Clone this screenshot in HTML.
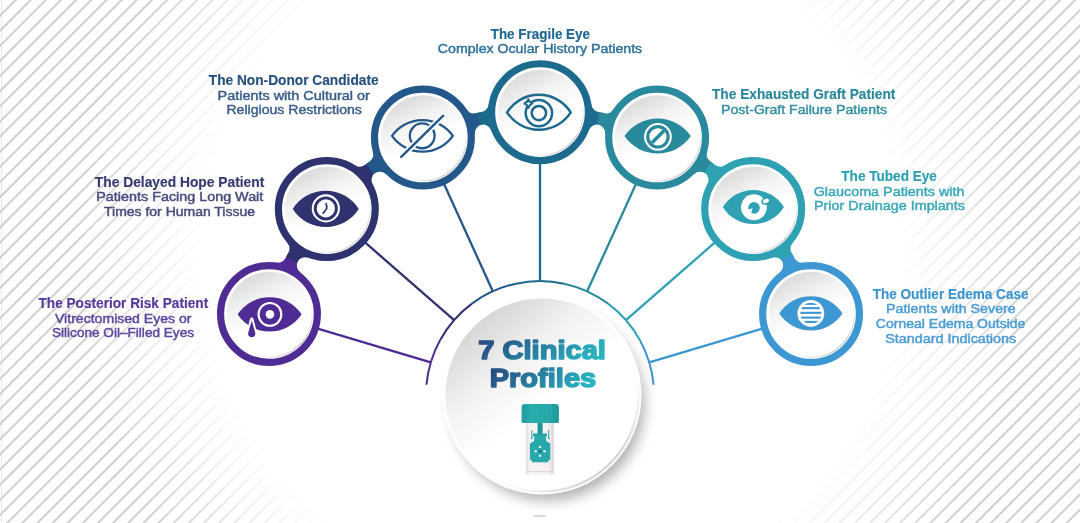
<!DOCTYPE html>
<html><head><meta charset="utf-8">
<style>
html,body{margin:0;padding:0;background:#fff;}
body{width:1080px;height:523px;overflow:hidden;position:relative;font-family:"Liberation Sans",sans-serif;}
#stripes{position:absolute;left:0;top:0;}
#fade{position:absolute;left:0;top:0;width:1080px;height:523px;
background:radial-gradient(circle 480px at 552px 255px,#fff 72%,rgba(255,255,255,0.55) 86%,rgba(255,255,255,0) 100%);}
#main{position:absolute;left:0;top:0;will-change:transform;}
</style></head><body>

<svg id="stripes" width="1080" height="523" viewBox="0 0 1080 523"><line x1="1.5" y1="0" x2="1.5" y2="523" stroke="#e9e9e9" stroke-width="1"/><path d="M35.60 -20L-527.40 543M50.73 -20L-512.26 543M65.87 -20L-497.13 543M81.00 -20L-482.00 543M96.14 -20L-466.86 543M111.28 -20L-451.73 543M126.41 -20L-436.59 543M141.55 -20L-421.45 543M156.68 -20L-406.32 543M171.81 -20L-391.19 543M186.95 -20L-376.05 543M202.08 -20L-360.92 543M217.22 -20L-345.78 543M232.35 -20L-330.65 543M247.49 -20L-315.51 543M262.62 -20L-300.38 543M277.76 -20L-285.24 543M292.89 -20L-270.11 543M308.03 -20L-254.97 543M323.16 -20L-239.84 543M338.30 -20L-224.70 543M353.43 -20L-209.57 543M368.57 -20L-194.43 543M383.70 -20L-179.30 543M398.84 -20L-164.16 543M413.97 -20L-149.03 543M429.11 -20L-133.89 543M444.24 -20L-118.76 543M459.38 -20L-103.62 543M474.51 -20L-88.49 543M489.65 -20L-73.35 543M504.78 -20L-58.22 543M519.92 -20L-43.08 543M535.05 -20L-27.95 543M550.19 -20L-12.81 543M565.32 -20L2.32 543M580.46 -20L17.46 543M595.59 -20L32.59 543M610.73 -20L47.73 543M625.86 -20L62.86 543M641.00 -20L78.00 543M656.13 -20L93.13 543M671.27 -20L108.27 543M686.40 -20L123.40 543M701.54 -20L138.54 543M716.67 -20L153.67 543M731.81 -20L168.81 543M746.94 -20L183.94 543M762.08 -20L199.08 543M777.21 -20L214.21 543M792.35 -20L229.35 543M807.48 -20L244.48 543M822.62 -20L259.62 543M837.75 -20L274.75 543M852.89 -20L289.89 543M868.02 -20L305.02 543M883.16 -20L320.16 543M898.29 -20L335.29 543M913.43 -20L350.43 543M928.56 -20L365.56 543M943.70 -20L380.70 543M958.83 -20L395.83 543M973.97 -20L410.97 543M989.10 -20L426.10 543M1004.24 -20L441.24 543M1019.37 -20L456.37 543M1034.51 -20L471.51 543M1049.64 -20L486.64 543M1064.78 -20L501.78 543M1079.91 -20L516.91 543M1095.05 -20L532.05 543M1110.18 -20L547.18 543M1125.32 -20L562.32 543M1140.45 -20L577.45 543M1155.59 -20L592.59 543M1170.72 -20L607.72 543M1185.86 -20L622.86 543M1200.99 -20L637.99 543M1216.13 -20L653.13 543M1231.26 -20L668.26 543M1246.40 -20L683.40 543M1261.53 -20L698.53 543M1276.67 -20L713.67 543M1291.80 -20L728.80 543M1306.94 -20L743.94 543M1322.07 -20L759.07 543M1337.21 -20L774.21 543M1352.34 -20L789.34 543M1367.48 -20L804.48 543M1382.61 -20L819.61 543M1397.75 -20L834.75 543M1412.88 -20L849.88 543M1428.02 -20L865.02 543M1443.15 -20L880.15 543M1458.29 -20L895.29 543M1473.42 -20L910.42 543M1488.56 -20L925.56 543M1503.69 -20L940.69 543M1518.83 -20L955.83 543M1533.96 -20L970.96 543M1549.10 -20L986.10 543M1564.23 -20L1001.23 543M1579.37 -20L1016.37 543M1594.50 -20L1031.50 543M1609.64 -20L1046.64 543M1624.77 -20L1061.77 543M1639.91 -20L1076.91 543" stroke="#cfcfcf" stroke-width="2" fill="none" style="filter:blur(0.65px)"/></svg>
<div id="fade"></div>
<svg id="main" width="1080" height="523" viewBox="0 0 1080 523"><defs>
<linearGradient id="cg" x1="0.25" y1="0.02" x2="0.62" y2="0.8">
<stop offset="0" stop-color="#d8d8d8"/><stop offset="0.38" stop-color="#f3f3f3"/><stop offset="0.7" stop-color="#fff"/>
</linearGradient>
<linearGradient id="dg" x1="0.15" y1="0.1" x2="0.75" y2="0.85">
<stop offset="0" stop-color="#d3d3d3"/><stop offset="0.32" stop-color="#f2f2f2"/><stop offset="0.6" stop-color="#fff"/>
</linearGradient>
<linearGradient id="tg" x1="0" y1="0" x2="1" y2="0.3">
<stop offset="0" stop-color="#27427c"/><stop offset="1" stop-color="#29b1bf"/>
</linearGradient>
<linearGradient id="bev" x1="0.2" y1="0.2" x2="0.85" y2="0.9">
<stop offset="0" stop-color="#fff" stop-opacity="0"/><stop offset="0.55" stop-color="#fff" stop-opacity="0"/><stop offset="1" stop-color="#c4c4c4"/>
</linearGradient>
<linearGradient id="capg" x1="0" y1="0" x2="1" y2="0">
<stop offset="0" stop-color="#1f9c9d"/><stop offset="0.25" stop-color="#2aaeae"/><stop offset="0.75" stop-color="#28aaab"/><stop offset="1" stop-color="#1d9596"/>
</linearGradient>
<linearGradient id="tubeg" x1="0" y1="0" x2="1" y2="0">
<stop offset="0" stop-color="#e3dadd"/><stop offset="0.15" stop-color="#f8f3f5"/><stop offset="0.8" stop-color="#f6f0f2"/><stop offset="1" stop-color="#ded5d8"/>
</linearGradient>
<linearGradient id="bev2" x1="0.2" y1="0.2" x2="0.8" y2="0.95">
<stop offset="0" stop-color="#fff" stop-opacity="0"/><stop offset="0.6" stop-color="#fff" stop-opacity="0"/><stop offset="1" stop-color="#c8c8c8"/>
</linearGradient>
<filter id="sh" x="-30%" y="-30%" width="160%" height="160%"><feGaussianBlur stdDeviation="7"/></filter>
</defs><path d="M426.47 384.73A114 114 0 0 1 440.17 340.01" stroke="#4e2c93" stroke-width="2" fill="none"/><path d="M440.17 340.01A114 114 0 0 1 471.91 303.63" stroke="#2e336f" stroke-width="2" fill="none"/><path d="M471.91 303.63A114 114 0 0 1 515.86 283.65" stroke="#24578a" stroke-width="2" fill="none"/><path d="M515.86 283.65A114 114 0 0 1 564.14 283.65" stroke="#1d6a8f" stroke-width="2" fill="none"/><path d="M564.14 283.65A114 114 0 0 1 608.09 303.63" stroke="#2a8a9d" stroke-width="2" fill="none"/><path d="M608.09 303.63A114 114 0 0 1 639.83 340.01" stroke="#2ea2b3" stroke-width="2" fill="none"/><path d="M639.83 340.01A114 114 0 0 1 653.53 384.73" stroke="#3d97d2" stroke-width="2" fill="none"/><line x1="430.78" y1="362.40" x2="316.86" y2="328.33" stroke="#4e2c93" stroke-width="2.3"/><line x1="454.09" y1="320.12" x2="364.50" y2="241.96" stroke="#2e336f" stroke-width="2.3"/><line x1="492.82" y1="291.28" x2="443.60" y2="183.05" stroke="#24578a" stroke-width="2.3"/><line x1="540.00" y1="281.06" x2="540.00" y2="162.16" stroke="#1d6a8f" stroke-width="2.3"/><line x1="587.18" y1="291.28" x2="636.40" y2="183.05" stroke="#2a8a9d" stroke-width="2.3"/><line x1="625.91" y1="320.12" x2="715.50" y2="241.96" stroke="#2ea2b3" stroke-width="2.3"/><line x1="649.22" y1="362.40" x2="763.14" y2="328.33" stroke="#3d97d2" stroke-width="2.3"/><ellipse cx="539.5" cy="516" rx="7" ry="1.3" fill="#d9d9d9"/><circle cx="548" cy="404" r="96" fill="#000" opacity="0.32" filter="url(#sh)"/><circle cx="542" cy="395" r="99.5" fill="#fff"/><circle cx="542" cy="395" r="96.5" fill="url(#dg)" stroke="url(#bev2)" stroke-width="2.2"/><path d="M268.96 314.00L276.32 262.53A9.0 9.0 0 0 0 285.52 257.89A289.09999999999997 289.09999999999997 0 0 1 287.58 254.13L298.40 260.17A276.7 276.7 0 0 0 297.93 261.03A9.0 9.0 0 0 0 300.37 272.56Z" fill="#4e2c93"/><path d="M326.82 209.09L287.21 242.78A9.0 9.0 0 0 1 288.19 253.03A289.09999999999997 289.09999999999997 0 0 0 286.11 256.78L297.00 262.71A276.7 276.7 0 0 1 297.47 261.86A9.0 9.0 0 0 1 308.53 257.77Z" fill="#2e336f"/><path d="M326.82 209.09L354.82 165.27A9.0 9.0 0 0 0 365.11 164.86A289.09999999999997 289.09999999999997 0 0 1 368.54 162.29L375.90 172.27A276.7 276.7 0 0 0 375.12 172.85A9.0 9.0 0 0 0 372.56 184.36Z" fill="#2e336f"/><path d="M422.91 137.53L372.91 151.81A9.0 9.0 0 0 1 369.56 161.55A289.09999999999997 289.09999999999997 0 0 0 366.12 164.10L373.57 174.00A276.7 276.7 0 0 1 374.35 173.42A9.0 9.0 0 0 1 386.11 174.27Z" fill="#24578a"/><path d="M422.91 137.53L466.54 109.24A9.0 9.0 0 0 0 476.08 113.12A289.09999999999997 289.09999999999997 0 0 1 480.26 112.20L482.83 124.33A276.7 276.7 0 0 0 481.87 124.53A9.0 9.0 0 0 0 474.78 133.95Z" fill="#24578a"/><path d="M540.00 112.16L488.57 104.46A9.0 9.0 0 0 1 481.49 111.94A289.09999999999997 289.09999999999997 0 0 0 477.30 112.84L479.99 124.95A276.7 276.7 0 0 1 480.94 124.74A9.0 9.0 0 0 1 491.29 130.38Z" fill="#1d6a8f"/><path d="M540.00 112.16L591.43 104.46A9.0 9.0 0 0 0 598.51 111.94A289.09999999999997 289.09999999999997 0 0 1 602.70 112.84L600.01 124.95A276.7 276.7 0 0 0 599.06 124.74A9.0 9.0 0 0 0 588.71 130.38Z" fill="#1d6a8f"/><path d="M657.09 137.53L613.46 109.24A9.0 9.0 0 0 1 603.92 113.12A289.09999999999997 289.09999999999997 0 0 0 599.74 112.20L597.17 124.33A276.7 276.7 0 0 1 598.13 124.53A9.0 9.0 0 0 1 605.22 133.95Z" fill="#2a8a9d"/><path d="M657.09 137.53L707.09 151.81A9.0 9.0 0 0 0 710.44 161.55A289.09999999999997 289.09999999999997 0 0 1 713.88 164.10L706.43 174.00A276.7 276.7 0 0 0 705.65 173.42A9.0 9.0 0 0 0 693.89 174.27Z" fill="#2a8a9d"/><path d="M753.18 209.09L725.18 165.27A9.0 9.0 0 0 1 714.89 164.86A289.09999999999997 289.09999999999997 0 0 0 711.46 162.29L704.10 172.27A276.7 276.7 0 0 1 704.88 172.85A9.0 9.0 0 0 1 707.44 184.36Z" fill="#2ea2b3"/><path d="M753.18 209.09L792.79 242.78A9.0 9.0 0 0 0 791.81 253.03A289.09999999999997 289.09999999999997 0 0 1 793.89 256.78L783.00 262.71A276.7 276.7 0 0 0 782.53 261.86A9.0 9.0 0 0 0 771.47 257.77Z" fill="#2ea2b3"/><path d="M811.04 314.00L803.68 262.53A9.0 9.0 0 0 1 794.48 257.89A289.09999999999997 289.09999999999997 0 0 0 792.42 254.13L781.60 260.17A276.7 276.7 0 0 1 782.07 261.03A9.0 9.0 0 0 1 779.63 272.56Z" fill="#3d97d2"/><circle cx="268.96" cy="314.00" r="48.4" fill="#fff" stroke="#4e2c93" stroke-width="7.2"/><circle cx="269.46" cy="314.50" r="42.8" fill="url(#cg)" stroke="url(#bev)" stroke-width="1.2"/><circle cx="326.82" cy="209.09" r="48.4" fill="#fff" stroke="#2e336f" stroke-width="7.2"/><circle cx="327.32" cy="209.59" r="42.8" fill="url(#cg)" stroke="url(#bev)" stroke-width="1.2"/><circle cx="422.91" cy="137.53" r="48.4" fill="#fff" stroke="#24578a" stroke-width="7.2"/><circle cx="423.41" cy="138.03" r="42.8" fill="url(#cg)" stroke="url(#bev)" stroke-width="1.2"/><circle cx="540.00" cy="112.16" r="48.4" fill="#fff" stroke="#1d6a8f" stroke-width="7.2"/><circle cx="540.50" cy="112.66" r="42.8" fill="url(#cg)" stroke="url(#bev)" stroke-width="1.2"/><circle cx="657.09" cy="137.53" r="48.4" fill="#fff" stroke="#2a8a9d" stroke-width="7.2"/><circle cx="657.59" cy="138.03" r="42.8" fill="url(#cg)" stroke="url(#bev)" stroke-width="1.2"/><circle cx="753.18" cy="209.09" r="48.4" fill="#fff" stroke="#2ea2b3" stroke-width="7.2"/><circle cx="753.68" cy="209.59" r="42.8" fill="url(#cg)" stroke="url(#bev)" stroke-width="1.2"/><circle cx="811.04" cy="314.00" r="48.4" fill="#fff" stroke="#3d97d2" stroke-width="7.2"/><circle cx="811.54" cy="314.50" r="42.8" fill="url(#cg)" stroke="url(#bev)" stroke-width="1.2"/><g transform="translate(269.63 314.35)">
<path d="M-32 0A38.37 38.37 0 0 1 32 0A38.37 38.37 0 0 1 -32 0Z" fill="#4e2c93"/>
<circle cx="0.3" cy="0" r="11.4" fill="none" stroke="#fff" stroke-width="2.1"/>
<circle cx="0.3" cy="0" r="4.3" fill="#fff"/>
<path d="M-17.9 5.0L-21.4 18.5A3.6 3.6 0 1 0 -14.4 18.5Z" fill="#fff" stroke="#fff" stroke-width="3.6" stroke-linejoin="round"/>
<path d="M-17.9 6.2L-21.4 18.5A3.6 3.6 0 1 0 -14.4 18.5Z" fill="#4e2c93"/>
</g><g transform="translate(325.74 208.89)">
<path d="M-33 0A39.02 39.02 0 0 1 33 0A39.02 39.02 0 0 1 -33 0Z" fill="#2e336f"/>
<circle cx="0.1" cy="-0.5" r="13.05" fill="none" stroke="#fff" stroke-width="2.1"/>
<circle cx="0.1" cy="-0.5" r="9.1" fill="#fff"/>
<path d="M0.4 -5.2Q1.6 -1 0.6 0.4L-2.6 4.2" fill="none" stroke="#2e336f" stroke-width="1.7" stroke-linecap="round" stroke-linejoin="round"/>
</g><g transform="translate(422.45 135.83)">
<path d="M-30.4 0A37.15 37.15 0 0 1 30.4 0A37.15 37.15 0 0 1 -30.4 0Z" fill="none" stroke="#24578a" stroke-width="2.3"/>
<circle cx="-0.25" cy="0" r="12.4" fill="none" stroke="#24578a" stroke-width="2.3"/>
<line x1="20.8" y1="-20.1" x2="-21.2" y2="21.1" stroke="#fff" stroke-width="6" stroke-linecap="round"/>
<line x1="20.8" y1="-20.1" x2="-21.2" y2="21.1" stroke="#24578a" stroke-width="2.4" stroke-linecap="round"/>
</g><g transform="translate(538.89 112.3)">
<path d="M-31.8 0A37.64 37.64 0 0 1 31.8 0A37.64 37.64 0 0 1 -31.8 0Z" fill="none" stroke="#1d6a8f" stroke-width="2.5"/>
<circle cx="0" cy="0.8" r="13.2" fill="none" stroke="#1d6a8f" stroke-width="2.5"/>
<circle cx="0" cy="0.8" r="7.2" fill="none" stroke="#1d6a8f" stroke-width="2.5"/>
<path d="M-10.5 -12.9Q-9.4 -9.8 -6.6 -8.7Q-9.4 -7.6 -10.5 -4.5Q-11.6 -7.6 -14.4 -8.7Q-11.6 -9.8 -10.5 -12.9Z" fill="#fff" stroke="#1d6a8f" stroke-width="2.1" stroke-linejoin="round"/>
</g><g transform="translate(657.63 136.02)">
<path d="M-33.2 0A40.24 40.24 0 0 1 33.2 0A40.24 40.24 0 0 1 -33.2 0Z" fill="#2a8a9d"/>
<circle cx="0.3" cy="0.8" r="12.85" fill="none" stroke="#fff" stroke-width="2.1"/>
<circle cx="0.3" cy="0.8" r="8.6" fill="#fff"/>
<line x1="6.3" y1="-5.2" x2="-5.7" y2="6.8" stroke="#2a8a9d" stroke-width="3.6"/>
</g><g transform="translate(753.4 207.07)">
<path d="M-30.6 0A36.04 36.04 0 0 1 30.6 0A36.04 36.04 0 0 1 -30.6 0Z" fill="#2ea2b3"/>
<circle cx="0.5" cy="0.2" r="12.9" fill="#fff"/>
<circle cx="0.6" cy="0.8" r="5.8" fill="#2ea2b3"/>
<path d="M-6 2.8L-0.8 1.3L-2.4 7.2Z" fill="#fff"/>
<ellipse cx="12.6" cy="-6.1" rx="4" ry="2.9" transform="rotate(-25 12.6 -6.1)" fill="#fff" stroke="#2ea2b3" stroke-width="1.7"/>
</g><g transform="translate(810.86 313.38)">
<clipPath id="ic7"><circle cx="0" cy="0" r="10.6"/></clipPath>
<path d="M-31.6 0A37.63 37.63 0 0 1 31.6 0A37.63 37.63 0 0 1 -31.6 0Z" fill="#3d97d2"/>
<circle cx="0" cy="0" r="13.4" fill="#fff"/>
<g clip-path="url(#ic7)" fill="#3d97d2"><rect x="-12" y="-10.6" width="24" height="2.1"/><rect x="-12" y="-6.3" width="24" height="2.1"/><rect x="-12" y="-1.6" width="24" height="2.1"/><rect x="-12" y="3.2" width="24" height="2.1"/><rect x="-12" y="7.5" width="24" height="2.1"/></g>
</g><g>
<path d="M525.9 423H554V472Q554 474.8 551.2 474.8H528.7Q525.9 474.8 525.9 472Z" fill="url(#tubeg)"/>
<path d="M527.5 471.5H552.5" stroke="#e2d8dc" stroke-width="1"/>
<rect x="537.6" y="422" width="5" height="13.5" fill="#1b9597"/>
<path d="M533 433.5H547V436.5H533Z" fill="#24a3a5"/>
<path d="M531.8 430V437.5M548.6 430V437.5" stroke="#3aa9ab" stroke-width="1.1"/>
<circle cx="531.8" cy="438.2" r="1" fill="#2aa5a7"/><circle cx="548.6" cy="438.2" r="1" fill="#2aa5a7"/>
<path d="M534.6 435.5H545.6L546.2 441L550.3 443.5V459.8L548.3 460.6V462.3H531.9V460.6L529.9 459.8V443.5L534 441Z" fill="#27a8aa"/>
<g fill="#fff" opacity="0.95"><circle cx="540.1" cy="446.9" r="1.2"/><circle cx="540.1" cy="455.7" r="1.2"/><circle cx="535.7" cy="451.3" r="1.2"/><circle cx="544.5" cy="451.3" r="1.2"/></g>
<circle cx="540.1" cy="451.3" r="1.5" fill="#147a7c"/>
<path d="M525 404H555.5Q558.9 404 558.9 407.4V421.6Q558.9 423 557.5 423H523Q521.6 423 521.6 421.6V407.4Q521.6 404 525 404Z" fill="url(#capg)"/>
<path d="M526 405.5V422M530.5 405.5V422M535 405.5V422M539.5 405.5V422M544 405.5V422M548.5 405.5V422M553 405.5V422" stroke="#1a8f91" stroke-width="0.7" opacity="0.35"/>
</g><g font-family="Liberation Sans, sans-serif"><text x="38.5" y="307.59999999999997" textLength="169.7" lengthAdjust="spacingAndGlyphs" font-size="13.8" font-weight="bold" fill="#56389a" stroke="#56389a" stroke-width="0.15">The Posterior Risk Patient</text><text x="55" y="322.7" textLength="136.5" lengthAdjust="spacingAndGlyphs" font-size="12.9" font-weight="normal" fill="#5c469e" stroke="#5c469e" stroke-width="0.45">Vitrectomised Eyes or</text><text x="52" y="336.7" textLength="142.0" lengthAdjust="spacingAndGlyphs" font-size="12.9" font-weight="normal" fill="#5c469e" stroke="#5c469e" stroke-width="0.45">Silicone Oil–Filled Eyes</text><text x="94.8" y="186.70000000000002" textLength="169.5" lengthAdjust="spacingAndGlyphs" font-size="13.8" font-weight="bold" fill="#363b72" stroke="#363b72" stroke-width="0.15">The Delayed Hope Patient</text><text x="96.3" y="201.4" textLength="167.0" lengthAdjust="spacingAndGlyphs" font-size="12.9" font-weight="normal" fill="#474c7c" stroke="#474c7c" stroke-width="0.45">Patients Facing Long Wait</text><text x="104" y="215.70000000000002" textLength="151.0" lengthAdjust="spacingAndGlyphs" font-size="12.9" font-weight="normal" fill="#474c7c" stroke="#474c7c" stroke-width="0.45">Times for Human Tissue</text><text x="208.8" y="84.80000000000001" textLength="169.8" lengthAdjust="spacingAndGlyphs" font-size="13.8" font-weight="bold" fill="#27507f" stroke="#27507f" stroke-width="0.15">The Non-Donor Candidate</text><text x="217.6" y="99.6" textLength="152.2" lengthAdjust="spacingAndGlyphs" font-size="12.9" font-weight="normal" fill="#3a5d88" stroke="#3a5d88" stroke-width="0.45">Patients with Cultural or</text><text x="226.4" y="113.7" textLength="135.5" lengthAdjust="spacingAndGlyphs" font-size="12.9" font-weight="normal" fill="#3a5d88" stroke="#3a5d88" stroke-width="0.45">Religious Restrictions</text><text x="490.7" y="39.0" textLength="99.3" lengthAdjust="spacingAndGlyphs" font-size="13.8" font-weight="bold" fill="#1f6690" stroke="#1f6690" stroke-width="0.15">The Fragile Eye</text><text x="437.8" y="53.3" textLength="204.4" lengthAdjust="spacingAndGlyphs" font-size="12.9" font-weight="normal" fill="#2f7299" stroke="#2f7299" stroke-width="0.45">Complex Ocular History Patients</text><text x="712" y="99.30000000000001" textLength="183.4" lengthAdjust="spacingAndGlyphs" font-size="13.8" font-weight="bold" fill="#2a879c" stroke="#2a879c" stroke-width="0.15">The Exhausted Graft Patient</text><text x="721" y="113.7" textLength="166.0" lengthAdjust="spacingAndGlyphs" font-size="12.9" font-weight="normal" fill="#3590a4" stroke="#3590a4" stroke-width="0.45">Post-Graft Failure Patients</text><text x="841.3" y="180.70000000000002" textLength="95.6" lengthAdjust="spacingAndGlyphs" font-size="13.8" font-weight="bold" fill="#2a9fb1" stroke="#2a9fb1" stroke-width="0.15">The Tubed Eye</text><text x="813.7" y="195.60000000000002" textLength="150.8" lengthAdjust="spacingAndGlyphs" font-size="12.9" font-weight="normal" fill="#3aa7b8" stroke="#3aa7b8" stroke-width="0.45">Glaucoma Patients with</text><text x="814" y="210.20000000000002" textLength="151.0" lengthAdjust="spacingAndGlyphs" font-size="12.9" font-weight="normal" fill="#3aa7b8" stroke="#3aa7b8" stroke-width="0.45">Prior Drainage Implants</text><text x="872.7" y="298.5" textLength="155.8" lengthAdjust="spacingAndGlyphs" font-size="13.8" font-weight="bold" fill="#3a94cf" stroke="#3a94cf" stroke-width="0.15">The Outlier Edema Case</text><text x="886" y="313.40000000000003" textLength="129.7" lengthAdjust="spacingAndGlyphs" font-size="12.9" font-weight="normal" fill="#4a9cd3" stroke="#4a9cd3" stroke-width="0.45">Patients with Severe</text><text x="875.8" y="327.8" textLength="149.6" lengthAdjust="spacingAndGlyphs" font-size="12.9" font-weight="normal" fill="#4a9cd3" stroke="#4a9cd3" stroke-width="0.45">Corneal Edema Outside</text><text x="885.2" y="342.8" textLength="131.0" lengthAdjust="spacingAndGlyphs" font-size="12.9" font-weight="normal" fill="#4a9cd3" stroke="#4a9cd3" stroke-width="0.45">Standard Indications</text><text x="478.3" y="359.0" textLength="127.6" lengthAdjust="spacingAndGlyphs" font-size="26" font-weight="bold" fill="url(#tg)" stroke="url(#tg)" stroke-width="1.5" stroke-linejoin="round" paint-order="stroke" style="font-variant-ligatures:none">7 Clinical</text><text x="489.7" y="387.4" textLength="106.5" lengthAdjust="spacingAndGlyphs" font-size="26" font-weight="bold" fill="url(#tg)" stroke="url(#tg)" stroke-width="1.5" stroke-linejoin="round" paint-order="stroke" style="font-variant-ligatures:none">Profiles</text></g></svg>
</body></html>
